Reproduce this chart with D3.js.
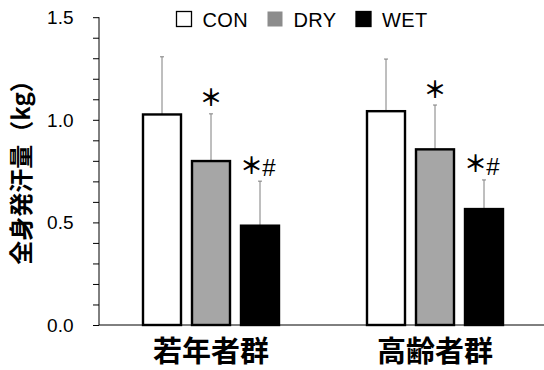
<!DOCTYPE html>
<html>
<head>
<meta charset="utf-8">
<script src="https://cdn.jsdelivr.net/npm/d3@7"></script>
<style>
  body { margin: 0; background: #fff; }
  svg { display: block; }
</style>
</head>
<body>
<svg id="chart" width="544" height="370"></svg>
<script>
// Whole-body sweat loss by group and condition
const groups = ["若年者群", "高齢者群"];
const conditions = ["CON", "DRY", "WET"];
const means = {
  "若年者群": [1.026, 0.799, 0.484],
  "高齢者群": [1.042, 0.856, 0.565]
};
const sds = {
  "若年者群": [0.281, 0.230, 0.217],
  "高齢者群": [0.254, 0.216, 0.142]
};
// significance marks per bar: asterisk and optional hash
const stars = {
  "若年者群": [false, true, true],
  "高齢者群": [false, true, true]
};
const hashes = {
  "若年者群": [false, false, true],
  "高齢者群": [false, false, true]
};
const fills = ["#ffffff", "#a6a6a6", "#000000"];
const yTicks = [0.0, 0.5, 1.0, 1.5];

const svg = d3.select("#chart");
const x0 = d3.scaleBand().domain(groups).range([99, 547]).paddingInner(0).paddingOuter(0);
const y = d3.scaleLinear().domain([0, 1.5]).range([325, 17.2]);
const barW = 40, gap = 9;
const x1 = d3.scaleBand().domain(conditions)
  .range([-(3 * barW + 2 * gap) / 2, (3 * barW + 2 * gap) / 2])
  .paddingInner(gap / (barW + gap)).paddingOuter(0);

// y axis with minor ticks every 0.1
const yAxisMinor = d3.axisLeft(y).tickValues(d3.range(0, 1.51, 0.1)).tickSize(6).tickFormat("");
svg.append("g").attr("transform", "translate(99,0)").call(yAxisMinor)
  .call(g => g.select(".domain").attr("stroke", "#000").attr("d", "M0,325V17.2"))
  .call(g => g.selectAll(".tick line").attr("stroke", "#000"));
svg.append("g").selectAll("text").data(yTicks).join("text")
  .attr("x", 73.5).attr("y", d => y(d)).attr("dy", "0.36em")
  .attr("text-anchor", "end")
  .attr("font-family", "Liberation Sans, Arial, sans-serif").attr("font-size", 19)
  .text(d => d.toFixed(1));

// x axis baseline
svg.append("line").attr("x1", 99).attr("x2", 544).attr("y1", y(0)).attr("y2", y(0))
  .attr("stroke", "#000").attr("stroke-width", 1);

const data = groups.flatMap(g => conditions.map((c, i) => ({
  g, c, i, v: means[g][i], sd: sds[g][i], star: stars[g][i], hash: hashes[g][i]
})));
const cx = d => x0(d.g) + x0.bandwidth() / 2 + x1(d.c);

// error bars (upper only)
const eb = svg.append("g");
eb.selectAll("line.v").data(data).join("line")
  .attr("x1", d => cx(d) + barW / 2).attr("x2", d => cx(d) + barW / 2)
  .attr("y1", d => y(d.v)).attr("y2", d => y(d.v + d.sd))
  .attr("stroke", "#7f7f7f").attr("stroke-width", 1);
eb.selectAll("line.cap").data(data).join("line")
  .attr("x1", d => cx(d) + barW / 2 - 2).attr("x2", d => cx(d) + barW / 2 + 2)
  .attr("y1", d => y(d.v + d.sd)).attr("y2", d => y(d.v + d.sd))
  .attr("stroke", "#7f7f7f").attr("stroke-width", 1);

// bars
svg.append("g").selectAll("rect").data(data).join("rect")
  .attr("x", d => cx(d) + 1).attr("width", barW - 2)
  .attr("y", d => y(d.v)).attr("height", d => y(0) - y(d.v))
  .attr("fill", d => fills[d.i]).attr("stroke", "#000").attr("stroke-width", 2.4);

// significance marks
const sig = svg.append("g");
sig.selectAll("text.star").data(data.filter(d => d.star)).join("text")
  .attr("class", "star")
  .attr("x", d => cx(d) + barW / 2 + (d.hash ? -8.5 : 0))
  .attr("y", d => y(d.v + d.sd) - 7.5)
  .attr("text-anchor", "middle")
  .attr("font-family", "Noto Sans CJK JP, sans-serif").attr("font-size", 23)
  .attr("font-weight", "bold")
  .text("＊");
sig.selectAll("text.hash").data(data.filter(d => d.hash)).join("text")
  .attr("class", "hash")
  .attr("x", d => cx(d) + barW / 2 + 9)
  .attr("y", d => y(d.v + d.sd) - 5)
  .attr("text-anchor", "middle")
  .attr("font-family", "Liberation Sans, Arial, sans-serif").attr("font-size", 24)
  .text("#");

// group labels
svg.append("g").selectAll("text").data(groups).join("text")
  .attr("x", d => x0(d) + x0.bandwidth() / 2).attr("y", 361.5)
  .attr("text-anchor", "middle")
  .attr("font-family", "Noto Sans CJK JP, sans-serif").attr("font-weight", "bold").attr("font-size", 29)
  .text(d => d);

// y axis title
svg.append("text")
  .attr("transform", "translate(29.5,166.5) rotate(-90)")
  .attr("text-anchor", "middle")
  .attr("font-family", "Noto Sans CJK JP, sans-serif").attr("font-weight", "bold").attr("font-size", 24)
  .text("全身発汗量（kg）");

// legend
const legendX = [176, 267, 355.5];
const lg = svg.append("g").selectAll("g").data(conditions).join("g")
  .attr("transform", (d, i) => `translate(${legendX[i]},11)`);
lg.append("rect").attr("x", 0.5).attr("y", 0.5).attr("width", 15).attr("height", 15)
  .attr("fill", (d, i) => i === 1 ? "#8c8c8c" : fills[i])
  .attr("stroke", (d, i) => i === 1 ? "none" : "#000").attr("stroke-width", 1.3);
lg.append("text").attr("x", 26.5).attr("y", 15.5)
  .attr("font-family", "Liberation Sans, Arial, sans-serif").attr("font-size", 20)
  .attr("letter-spacing", 0.4)
  .text(d => d);
</script>
</body>
</html>
